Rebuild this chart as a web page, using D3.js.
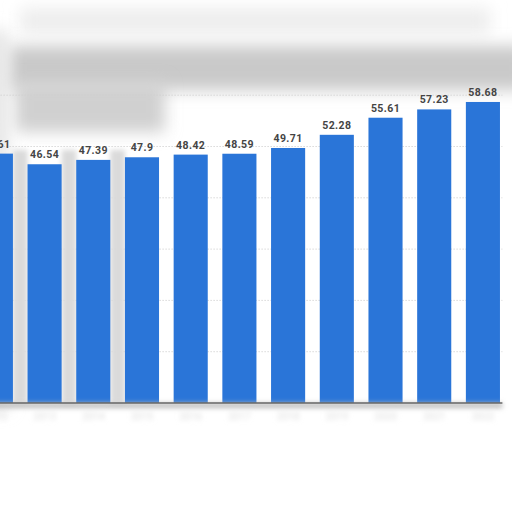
<!DOCTYPE html>
<html>
<head>
<meta charset="utf-8">
<script src="https://cdn.jsdelivr.net/npm/d3@7"></script>
<style>
  html, body { margin: 0; padding: 0; background: #fff; }
  svg { display: block; }
</style>
</head>
<body>
<svg id="chart" width="512" height="512"></svg>
<script>
// ---- data ----
const categories = ["2012","2013","2014","2015","2016","2017","2018","2019","2020","2021","2022"];
const values = [48.61, 46.54, 47.39, 47.9, 48.42, 48.59, 49.71, 52.28, 55.61, 57.23, 58.68];
const valueLabels = ["48.61","46.54","47.39","47.9","48.42","48.59","49.71","52.28","55.61","57.23","58.68"];
const gridTicks = [0, 10, 20, 30, 40, 50, 60];

const svg = d3.select("#chart");

// blur filters to mimic obscured regions
const defs = svg.append("defs");
function blurFilter(id, sd) {
  defs.append("filter").attr("id", id)
    .attr("filterUnits", "userSpaceOnUse").attr("x", -60).attr("y", -60).attr("width", 640).attr("height", 640)
    .append("feGaussianBlur").attr("stdDeviation", sd);
}
blurFilter("blurBig", 8);
blurFilter("blurSmall", 2.5);

const plot = { left: -23.6, right: 502.4, top: 95, bottom: 403 };

const x = d3.scaleBand().domain(categories).range([plot.left, plot.right]).paddingInner(0.3).paddingOuter(0.05);
const y = d3.scaleLinear().domain([0, 60]).range([plot.bottom, plot.bottom - 60 * 5.13]);

// obscured header decorations
const deco = svg.append("g");
deco.append("rect").attr("x", 20).attr("y", 8).attr("width", 470).attr("height", 26).attr("fill", "#ededed").attr("filter", "url(#blurBig)");
deco.append("rect").attr("x", 8).attr("y", 46).attr("width", 520).attr("height", 44).attr("fill", "#c9c9c9").attr("filter", "url(#blurBig)");
deco.append("rect").attr("x", 15).attr("y", 82).attr("width", 150).attr("height", 50).attr("fill", "#d0d0d0").attr("filter", "url(#blurBig)");
deco.append("rect").attr("x", -10).attr("y", 30).attr("width", 18).attr("height", 380).attr("fill", "#e4e4e4").attr("filter", "url(#blurBig)");

// gridlines
svg.append("g").selectAll("line").data(gridTicks.filter(d => d > 0)).join("line")
  .attr("x1", plot.left).attr("x2", plot.right)
  .attr("y1", d => y(d)).attr("y2", d => y(d))
  .attr("stroke", "#cfcfcf").attr("stroke-width", 0.8).attr("stroke-dasharray", "1.5,1.5");

// shading in gaps of the blurred left region
svg.append("g").selectAll("rect").data(categories.slice(0, 3)).join("rect")
  .attr("x", d => x(d) + x.bandwidth()).attr("y", 150).attr("width", x.step() - x.bandwidth()).attr("height", plot.bottom - 150)
  .attr("fill", "#dadada").attr("filter", "url(#blurSmall)");

// bars
svg.append("g").selectAll("rect").data(values).join("rect")
  .attr("x", (d, i) => x(categories[i]))
  .attr("y", d => y(d))
  .attr("width", x.bandwidth())
  .attr("height", d => y(0) - y(d))
  .attr("fill", "#2a75d8");

// value labels
svg.append("g").selectAll("text").data(values).join("text")
  .attr("x", (d, i) => x(categories[i]) + x.bandwidth() / 2)
  .attr("y", d => y(d) - 6)
  .attr("text-anchor", "middle")
  .attr("font-family", "Roboto, 'Liberation Sans', sans-serif")
  .attr("font-weight", "bold")
  .attr("font-size", "10.5px")
  .attr("letter-spacing", "0.4px")
  .attr("fill", "#444")
  .text((d, i) => valueLabels[i]);

// baseline shadow + axis line
svg.append("rect").attr("x", plot.left).attr("y", plot.bottom).attr("width", plot.right - plot.left).attr("height", 5)
  .attr("fill", "#bbb").attr("filter", "url(#blurSmall)");
svg.append("line").attr("x1", plot.left).attr("x2", plot.right).attr("y1", plot.bottom).attr("y2", plot.bottom)
  .attr("stroke", "#666").attr("stroke-width", 1.5);

// obscured category labels
svg.append("g").attr("filter", "url(#blurSmall)").selectAll("text").data(categories).join("text")
  .attr("x", d => x(d) + x.bandwidth() / 2)
  .attr("y", plot.bottom + 17)
  .attr("text-anchor", "middle")
  .attr("font-family", "Roboto, sans-serif")
  .attr("font-size", "10px")
  .attr("fill", "#dcdcdc")
  .text(d => d);
</script>
</body>
</html>
